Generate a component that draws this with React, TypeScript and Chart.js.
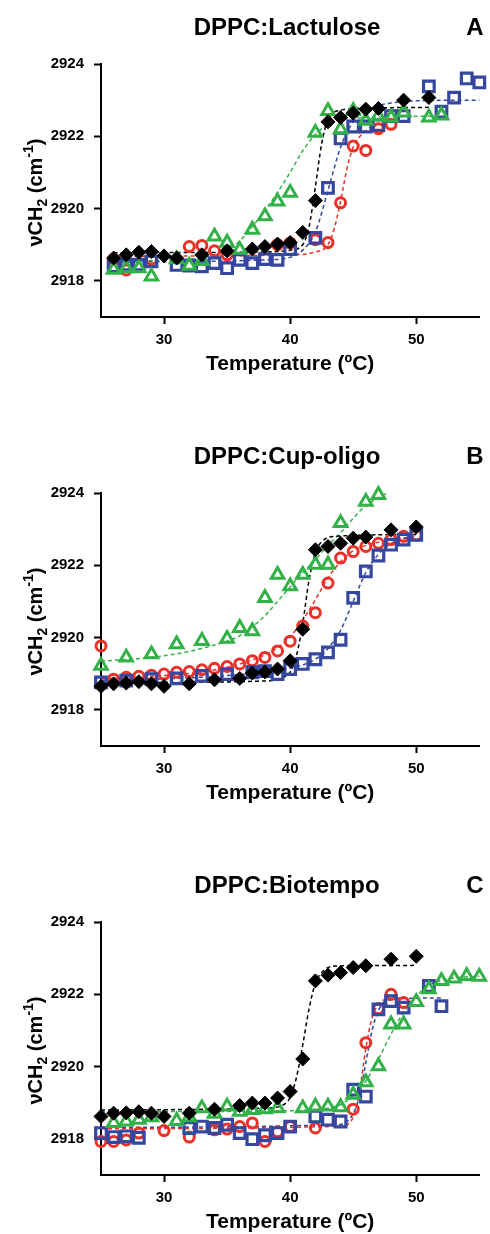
import React, { useEffect, useRef } from "react";
import { Chart, registerables } from "chart.js";

Chart.register(...registerables);

const FONT = "'Liberation Sans', Arial, Helvetica, sans-serif";
const BLACK = "#000000";
const RED = "#ea3128";
const BLUE = "#35479e";
const GREEN = "#33b149";

const X_TICKS = [30, 40, 50];
const Y_TICKS = [2918, 2920, 2922, 2924];
const X_TITLE = "Temperature (ºC)";
const TITLES = ["DPPC:Lactulose", "DPPC:Cup-oligo", "DPPC:Biotempo"];
const LETTERS = ["A", "B", "C"];

// ---------- Panel A: DPPC:Lactulose ----------
const A_BLACK_T = [26, 27, 28, 29, 30, 31, 33, 35, 37, 38, 39, 40, 41, 42, 43, 44, 45, 46, 47, 49, 51];
const A_BLACK_V = [2918.63, 2918.72, 2918.79, 2918.81, 2918.69, 2918.63, 2918.72, 2918.83, 2918.88, 2918.95, 2919.02, 2919.06, 2919.34, 2920.22, 2922.4, 2922.52, 2922.64, 2922.75, 2922.77, 2923.0, 2923.07];
const A_RED_T = [26, 27, 29, 32, 33, 34, 35, 39, 40, 42, 43, 44, 45, 46, 47, 48];
const A_RED_V = [2918.6, 2918.3, 2918.6, 2918.95, 2918.98, 2918.83, 2918.72, 2919.0, 2919.05, 2919.14, 2919.06, 2920.16, 2921.73, 2921.61, 2922.21, 2922.33];
const A_BLUE_T = [26, 27, 28, 29, 31, 32, 33, 34, 35, 36, 37, 38, 39, 40, 42, 43, 44, 45, 46, 47, 48, 49, 51, 52, 53, 54, 55];
const A_BLUE_V = [2918.4, 2918.45, 2918.45, 2918.54, 2918.44, 2918.42, 2918.4, 2918.49, 2918.35, 2918.58, 2918.49, 2918.6, 2918.58, 2918.88, 2919.19, 2920.57, 2921.94, 2922.27, 2922.27, 2922.31, 2922.56, 2922.56, 2923.38, 2922.68, 2923.07, 2923.6, 2923.49];
const A_GREEN_T = [26, 27, 28, 29, 31, 32, 33, 34, 35, 36, 37, 38, 39, 40, 42, 43, 44, 45, 46, 47, 48, 49, 51, 52];
const A_GREEN_V = [2918.31, 2918.35, 2918.35, 2918.12, 2918.6, 2918.42, 2918.55, 2919.23, 2919.06, 2918.86, 2919.42, 2919.79, 2920.2, 2920.44, 2922.1, 2922.7, 2922.19, 2922.7, 2922.43, 2922.56, 2922.52, 2922.66, 2922.52, 2922.58];

const A_BLACK_FIT_T = [26, 38, 40, 41, 41.5, 42, 42.5, 43, 44, 46, 51];
const A_BLACK_FIT_V = [2918.78, 2918.8, 2918.85, 2919.0, 2919.5, 2920.6, 2921.8, 2922.45, 2922.72, 2922.78, 2922.8];
const A_RED_FIT_T = [26, 40, 42, 43, 43.5, 44, 44.5, 45, 46, 47, 48];
const A_RED_FIT_V = [2918.68, 2918.72, 2918.8, 2919.0, 2919.45, 2920.2, 2921.1, 2921.7, 2922.15, 2922.35, 2922.42];
const A_BLUE_FIT_T = [26, 38, 40, 41, 42, 43, 44, 45, 46, 48, 50, 55];
const A_BLUE_FIT_V = [2918.52, 2918.58, 2918.65, 2918.85, 2919.35, 2920.5, 2921.7, 2922.4, 2922.72, 2922.92, 2922.98, 2923.0];
const A_GREEN_FIT_T = [26, 30, 33, 35, 36, 37, 38, 39, 40, 41, 42, 43, 44, 46, 52];
const A_GREEN_FIT_V = [2918.55, 2918.57, 2918.65, 2918.85, 2919.1, 2919.5, 2919.95, 2920.45, 2921.0, 2921.6, 2922.05, 2922.32, 2922.45, 2922.52, 2922.56];

// ---------- Panel B: DPPC:Cup-oligo ----------
const B_BLACK_T = [25, 26, 27, 28, 29, 30, 32, 34, 36, 37, 38, 39, 40, 41, 42, 43, 44, 45, 46, 48, 50];
const B_BLACK_V = [2918.65, 2918.72, 2918.74, 2918.78, 2918.72, 2918.65, 2918.72, 2918.83, 2918.87, 2919.02, 2919.05, 2919.13, 2919.36, 2920.23, 2922.43, 2922.52, 2922.61, 2922.75, 2922.78, 2922.98, 2923.06];
const B_RED_T = [25, 26, 27, 28, 29, 30, 31, 32, 33, 34, 35, 36, 37, 38, 39, 40, 41, 42, 43, 44, 45, 46, 47, 48, 49, 50];
const B_RED_V = [2919.77, 2918.85, 2918.9, 2918.93, 2918.96, 2918.99, 2919.04, 2919.06, 2919.11, 2919.15, 2919.2, 2919.27, 2919.36, 2919.45, 2919.63, 2919.9, 2920.32, 2920.69, 2921.51, 2922.2, 2922.38, 2922.52, 2922.61, 2922.71, 2922.8, 2922.84];
const B_BLUE_T = [25, 27, 29, 31, 33, 35, 37, 38, 39, 40, 41, 42, 43, 44, 45, 46, 47, 48, 49, 50];
const B_BLUE_V = [2918.76, 2918.81, 2918.85, 2918.87, 2918.94, 2918.99, 2919.04, 2919.07, 2918.99, 2919.13, 2919.27, 2919.4, 2919.59, 2919.94, 2921.1, 2921.83, 2922.27, 2922.57, 2922.71, 2922.84];
const B_GREEN_T = [25, 27, 29, 31, 33, 35, 36, 37, 38, 39, 40, 41, 42, 43, 44, 46, 47];
const B_GREEN_V = [2919.22, 2919.45, 2919.54, 2919.82, 2919.91, 2919.97, 2920.27, 2920.18, 2921.1, 2921.74, 2921.42, 2921.74, 2922.02, 2922.02, 2923.17, 2923.76, 2923.95];

const B_BLACK_FIT_T = [25, 38, 39.5, 40, 40.5, 41, 41.5, 42, 42.5, 43.5, 50];
const B_BLACK_FIT_V = [2918.75, 2918.8, 2918.9, 2919.05, 2919.5, 2920.4, 2921.6, 2922.35, 2922.65, 2922.8, 2922.85];
const B_RED_FIT_T = [25, 30, 33, 35, 37, 38, 39, 40, 41, 42, 43, 44, 45, 46, 48, 50];
const B_RED_FIT_V = [2918.85, 2918.95, 2919.05, 2919.18, 2919.38, 2919.52, 2919.72, 2920.02, 2920.48, 2921.05, 2921.65, 2922.1, 2922.4, 2922.55, 2922.7, 2922.76];
const B_BLUE_FIT_T = [25, 35, 40, 42, 43, 44, 45, 46, 47, 48, 49, 50];
const B_BLUE_FIT_V = [2918.8, 2918.95, 2919.15, 2919.4, 2919.7, 2920.2, 2921.0, 2921.8, 2922.3, 2922.6, 2922.75, 2922.82];
const B_GREEN_FIT_T = [25, 28, 31, 33, 35, 36, 37, 38, 39, 40, 41, 42, 43, 44, 45, 46, 47.7];
const B_GREEN_FIT_V = [2919.35, 2919.42, 2919.55, 2919.7, 2919.9, 2920.05, 2920.3, 2920.6, 2921.0, 2921.4, 2921.8, 2922.16, 2922.55, 2922.9, 2923.3, 2923.65, 2924.0];

// ---------- Panel C: DPPC:Biotempo ----------
const C_BLACK_T = [25, 26, 27, 28, 29, 30, 32, 34, 36, 37, 38, 39, 40, 41, 42, 43, 44, 45, 46, 48, 50];
const C_BLACK_V = [2918.62, 2918.71, 2918.72, 2918.75, 2918.71, 2918.62, 2918.71, 2918.82, 2918.92, 2918.99, 2918.99, 2919.13, 2919.31, 2920.21, 2922.37, 2922.53, 2922.6, 2922.74, 2922.79, 2922.97, 2923.05];
const C_RED_T = [25, 26, 27, 28, 30, 32, 34, 35, 36, 37, 38, 39, 40, 42, 45, 46, 47, 48, 49];
const C_RED_V = [2917.93, 2917.93, 2917.97, 2918.16, 2918.23, 2918.05, 2918.25, 2918.27, 2918.34, 2918.44, 2917.93, 2918.2, 2918.34, 2918.3, 2918.82, 2920.66, 2921.6, 2922.0, 2921.77];
const C_BLUE_T = [25, 26, 27, 28, 32, 33, 34, 35, 36, 37, 38, 39, 40, 42, 43, 44, 45, 46, 47, 48, 49, 51, 52];
const C_BLUE_V = [2918.16, 2918.05, 2918.07, 2918.03, 2918.3, 2918.34, 2918.3, 2918.39, 2918.16, 2917.99, 2918.1, 2918.16, 2918.34, 2918.62, 2918.53, 2918.48, 2919.36, 2919.17, 2921.58, 2921.81, 2921.63, 2922.23, 2921.67];
const C_GREEN_T = [26, 27, 28, 29, 31, 32, 33, 34, 35, 36, 37, 38, 39, 41, 42, 43, 44, 45, 46, 47, 48, 49, 50, 51, 52, 53, 54, 55];
const C_GREEN_V = [2918.44, 2918.48, 2918.53, 2918.6, 2918.5, 2918.6, 2918.85, 2918.7, 2918.9, 2918.75, 2918.8, 2918.82, 2918.85, 2918.85, 2918.9, 2918.9, 2918.88, 2919.22, 2919.57, 2920.01, 2921.17, 2921.17, 2921.79, 2922.14, 2922.37, 2922.44, 2922.51, 2922.49];

const C_BLACK_FIT_T = [25, 38, 39.5, 40, 40.5, 41, 41.5, 42, 42.5, 43.5, 50];
const C_BLACK_FIT_V = [2918.8, 2918.85, 2918.95, 2919.15, 2919.7, 2920.6, 2921.6, 2922.3, 2922.6, 2922.78, 2922.8];
const C_RED_FIT_T = [25, 44, 45, 45.5, 46, 46.5, 47, 48, 49];
const C_RED_FIT_V = [2918.28, 2918.35, 2918.6, 2919.3, 2920.5, 2921.35, 2921.72, 2921.88, 2921.9];
const C_BLUE_FIT_T = [25, 44, 45, 45.5, 46, 46.5, 47, 47.5, 49, 52];
const C_BLUE_FIT_V = [2918.32, 2918.4, 2918.7, 2919.2, 2920.1, 2921.0, 2921.55, 2921.8, 2921.88, 2921.9];
const C_GREEN_FIT_T = [25, 40, 43, 44, 45, 46, 47, 48, 49, 50, 51, 52, 53, 55];
const C_GREEN_FIT_V = [2918.75, 2918.78, 2918.85, 2918.95, 2919.2, 2919.6, 2920.2, 2920.9, 2921.5, 2921.95, 2922.25, 2922.38, 2922.45, 2922.5];

const pts = (t: number[], v: number[]) => t.map((x, i) => ({ x, y: v[i] }));

type Series = { t: number[]; v: number[]; ft: number[]; fv: number[] };
type PanelData = { black: Series; red: Series; blue: Series; green: Series };

const PANELS: PanelData[] = [
  {
    black: { t: A_BLACK_T, v: A_BLACK_V, ft: A_BLACK_FIT_T, fv: A_BLACK_FIT_V },
    red: { t: A_RED_T, v: A_RED_V, ft: A_RED_FIT_T, fv: A_RED_FIT_V },
    blue: { t: A_BLUE_T, v: A_BLUE_V, ft: A_BLUE_FIT_T, fv: A_BLUE_FIT_V },
    green: { t: A_GREEN_T, v: A_GREEN_V, ft: A_GREEN_FIT_T, fv: A_GREEN_FIT_V },
  },
  {
    black: { t: B_BLACK_T, v: B_BLACK_V, ft: B_BLACK_FIT_T, fv: B_BLACK_FIT_V },
    red: { t: B_RED_T, v: B_RED_V, ft: B_RED_FIT_T, fv: B_RED_FIT_V },
    blue: { t: B_BLUE_T, v: B_BLUE_V, ft: B_BLUE_FIT_T, fv: B_BLUE_FIT_V },
    green: { t: B_GREEN_T, v: B_GREEN_V, ft: B_GREEN_FIT_T, fv: B_GREEN_FIT_V },
  },
  {
    black: { t: C_BLACK_T, v: C_BLACK_V, ft: C_BLACK_FIT_T, fv: C_BLACK_FIT_V },
    red: { t: C_RED_T, v: C_RED_V, ft: C_RED_FIT_T, fv: C_RED_FIT_V },
    blue: { t: C_BLUE_T, v: C_BLUE_V, ft: C_BLUE_FIT_T, fv: C_BLUE_FIT_V },
    green: { t: C_GREEN_T, v: C_GREEN_V, ft: C_GREEN_FIT_T, fv: C_GREEN_FIT_V },
  },
];

const CANVAS_W = 490;
const CANVAS_H = 400;
const PLOT_BOTTOM = 317;
const PANEL_TOPS = [0, 429, 858];

const textPlugin = {
  id: "panelText",
  afterDraw(chart: any, _args: any, opts: any) {
    const { ctx, chartArea } = chart;
    ctx.save();
    ctx.fillStyle = "#000";
    ctx.textBaseline = "alphabetic";
    ctx.textAlign = "center";
    ctx.font = `bold 24px ${FONT}`;
    ctx.fillText(opts.title, 287, 35);
    ctx.fillText(opts.letter, 475, 35);
    ctx.font = `bold 21px ${FONT}`;
    ctx.fillText(X_TITLE, (chartArea.left + chartArea.right) / 2, chartArea.bottom + 53);

    // rotated y-axis title with sub/superscript
    const parts = [
      { t: "\u03bdCH", s: 20, dy: 0 },
      { t: "2", s: 14, dy: 5 },
      { t: " (cm", s: 20, dy: 0 },
      { t: "-1", s: 14, dy: -9 },
      { t: ")", s: 20, dy: 0 },
    ];
    let total = 0;
    const widths = parts.map((p) => {
      ctx.font = `bold ${p.s}px ${FONT}`;
      const w = ctx.measureText(p.t).width;
      total += w;
      return w;
    });
    ctx.translate(42, (chartArea.top + chartArea.bottom) / 2 + 2);
    ctx.rotate(-Math.PI / 2);
    ctx.textAlign = "left";
    let x = -total / 2;
    parts.forEach((p, i) => {
      ctx.font = `bold ${p.s}px ${FONT}`;
      ctx.fillText(p.t, x, p.dy);
      x += widths[i];
    });
    ctx.restore();
  },
};

function buildDatasets(d: PanelData) {
  const common = { clip: false as const };
  const scatter = [
    {
      ...common,
      type: "scatter" as const,
      label: "black",
      data: pts(d.black.t, d.black.v),
      pointStyle: "rectRot",
      pointRadius: 7,
      pointBackgroundColor: BLACK,
      pointBorderColor: BLACK,
      pointBorderWidth: 1,
      showLine: false,
    },
    {
      ...common,
      type: "scatter" as const,
      label: "green",
      data: pts(d.green.t, d.green.v),
      pointStyle: "triangle",
      pointRadius: 7.2,
      pointBackgroundColor: "rgba(0,0,0,0)",
      pointBorderColor: GREEN,
      pointBorderWidth: 3,
      showLine: false,
    },
    {
      ...common,
      type: "scatter" as const,
      label: "blue",
      data: pts(d.blue.t, d.blue.v),
      pointStyle: "rect",
      pointRadius: 7.5,
      pointBackgroundColor: "rgba(0,0,0,0)",
      pointBorderColor: BLUE,
      pointBorderWidth: 3.2,
      showLine: false,
    },
    {
      ...common,
      type: "scatter" as const,
      label: "red",
      data: pts(d.red.t, d.red.v),
      pointStyle: "circle",
      pointRadius: 5,
      pointBackgroundColor: "rgba(0,0,0,0)",
      pointBorderColor: RED,
      pointBorderWidth: 3,
      showLine: false,
    },
  ];
  const fit = (s: Series, color: string, label: string) => ({
    ...common,
    type: "line" as const,
    label,
    data: pts(s.ft, s.fv),
    borderColor: color,
    borderWidth: 1.5,
    borderDash: [4, 3],
    pointRadius: 0,
    fill: false,
    cubicInterpolationMode: "monotone" as const,
  });
  return [
    ...scatter,
    fit(d.black, BLACK, "black fit"),
    fit(d.green, GREEN, "green fit"),
    fit(d.blue, BLUE, "blue fit"),
    fit(d.red, RED, "red fit"),
  ];
}

function Panel({ index }: { index: number }) {
  const ref = useRef<HTMLCanvasElement | null>(null);
  useEffect(() => {
    if (!ref.current) return;
    const tickFont = { family: FONT, size: 15, weight: "bold" as const };
    const chart = new Chart(ref.current, {
      type: "scatter",
      data: { datasets: buildDatasets(PANELS[index]) as any },
      options: {
        animation: false,
        responsive: false,
        maintainAspectRatio: false,
        layout: { padding: { top: 64, right: 8, left: 0, bottom: 0 } },
        plugins: {
          legend: { display: false },
          tooltip: { enabled: false },
          title: { display: false },
          panelText: { title: TITLES[index], letter: LETTERS[index] },
        } as any,
        scales: {
          x: {
            type: "linear",
            min: 25,
            max: 55,
            afterBuildTicks: (s: any) => {
              s.ticks = X_TICKS.map((v) => ({ value: v }));
            },
            afterFit: (s: any) => {
              s.height = CANVAS_H - PLOT_BOTTOM;
            },
            grid: {
              display: true,
              drawOnChartArea: false,
              drawTicks: true,
              tickLength: 7,
              tickWidth: 2,
              tickColor: "#000",
              color: "#000",
            },
            border: { display: true, color: "#000", width: 2 },
            ticks: { color: "#000", font: tickFont, padding: 7, maxRotation: 0, autoSkip: false },
          },
          y: {
            type: "linear",
            min: 2917,
            max: 2924,
            afterBuildTicks: (s: any) => {
              s.ticks = Y_TICKS.map((v) => ({ value: v }));
            },
            afterFit: (s: any) => {
              s.width = 101;
            },
            grid: {
              display: true,
              drawOnChartArea: false,
              drawTicks: true,
              tickLength: 7,
              tickWidth: 2,
              tickColor: "#000",
              color: "#000",
            },
            border: { display: true, color: "#000", width: 2 },
            ticks: { color: "#000", font: tickFont, padding: 10, autoSkip: false, callback: (v: any) => String(v) },
          },
        },
      },
      plugins: [textPlugin as any],
    });
    return () => chart.destroy();
  }, [index]);
  return (
    <canvas
      ref={ref}
      width={CANVAS_W}
      height={CANVAS_H}
      style={{
        position: "absolute",
        left: 0,
        top: PANEL_TOPS[index],
        width: CANVAS_W,
        height: CANVAS_H,
        display: "block",
      }}
    />
  );
}

export default function App() {
  return (
    <div
      style={{
        position: "absolute",
        left: 0,
        top: 0,
        width: 490,
        height: 1234,
        background: "#ffffff",
        overflow: "hidden",
      }}
    >
      {[0, 1, 2].map((i) => (
        <Panel key={i} index={i} />
      ))}
    </div>
  );
}
